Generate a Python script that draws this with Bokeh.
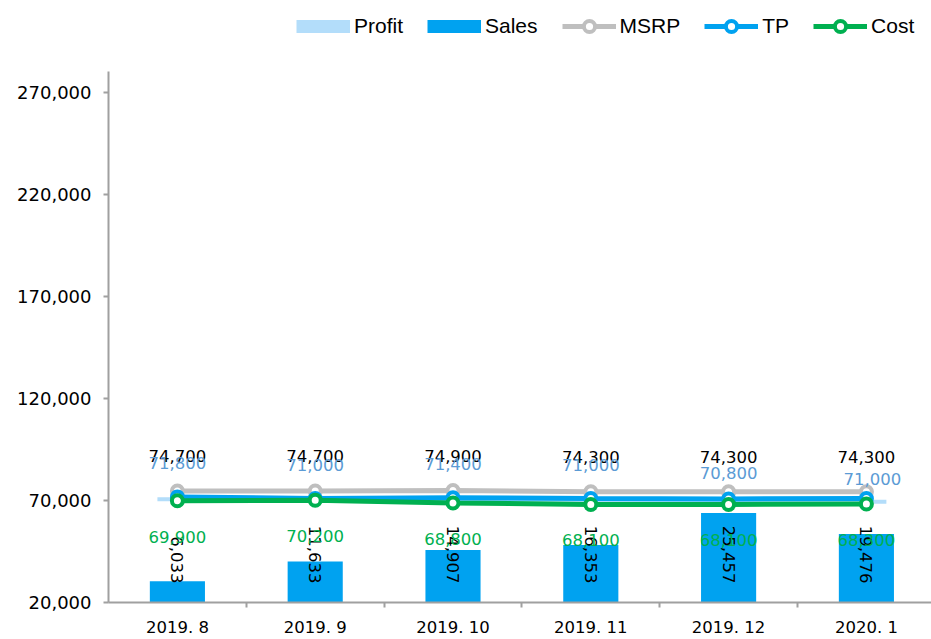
from bokeh.plotting import figure
from bokeh.layouts import column
from bokeh.models import (Range1d, FixedTicker, NumeralTickFormatter, Legend,
                          LegendItem, ColumnDataSource, LinearAxis)
from bokeh.embed import file_html
from bokeh.resources import INLINE
from bokeh.core.properties import value
import math

# ---------------- data ----------------
categories = ["2019. 8", "2019. 9", "2019. 10", "2019. 11", "2019. 12", "2020. 1"]
sales = [6033, 11633, 14907, 16353, 25457, 19476]
msrp = [74700, 74700, 74900, 74300, 74300, 74300]
tp = [71800, 71000, 71400, 71000, 70800, 71000]
cost = [69900, 70200, 68800, 68100, 68100, 68300]
profit = [70600, 70600, 70200, 69800, 69600, 69400]
y_ticks = [20000, 70000, 120000, 170000, 220000, 270000]
series_names = ["Profit", "Sales", "MSRP", "TP", "Cost"]

# ---------------- style ----------------
C_PROFIT = "#B3DDFA"
C_SALES = "#00A2F0"
C_MSRP = "#BFBFBF"
C_TP = "#00A2F0"
C_COST = "#00B050"
C_TP_LABEL = "#5B9BD5"
AXIS_C = "#A0A0A0"
NUM_FONT = value("DejaVu Sans")

W, H_TOP, H = 931, 71, 568
BL, BR, BT, BB = 108, 0, 0, 37
frame_h = H - BT - BB
frame_w = W - BL - BR
cat_px = 137.8
x_start = -0.5
x_end = x_start + frame_w / cat_px
y_start, y_end = 20000, 280500
sales_end = 151000

idx = list(range(len(categories)))

# ---------------- legend strip ----------------
lg = figure(width=W, height=H_TOP, output_backend="svg", toolbar_location=None,
            x_range=Range1d(0, 1), y_range=Range1d(0, 1), min_border=0,
            outline_line_color=None, x_axis_type=None, y_axis_type=None)
lg.xgrid.visible = False
lg.ygrid.visible = False
far = dict(x=[-10], y=[-10])
lp = lg.line(**far, line_color=C_PROFIT, line_width=13)
ls = lg.line(**far, line_color=C_SALES, line_width=13)
items = [LegendItem(label=series_names[0], renderers=[lp]),
         LegendItem(label=series_names[1], renderers=[ls])]
for name, col in zip(series_names[2:], (C_MSRP, C_TP, C_COST)):
    l1 = lg.line(**far, line_color=col, line_width=5)
    s1 = lg.scatter(**far, marker="circle", size=11, line_width=4,
                    line_color=col, fill_color="white")
    items.append(LegendItem(label=name, renderers=[l1, s1]))
legend_bottom = 39.5   # px from top of strip
legend_left = 296      # px from page left
legend = Legend(items=items, orientation="horizontal",
                location=(legend_left - BL, H_TOP - legend_bottom))
legend.glyph_width = 54
legend.glyph_height = 28
legend.label_standoff = 4
legend.spacing = 24
legend.padding = 0
legend.margin = 0
legend.border_line_color = None
legend.background_fill_alpha = 0
legend.label_text_font = "Liberation Sans"
legend.label_text_font_size = "21px"
legend.label_text_color = "black"
lg.add_layout(legend, "center")

# ---------------- main chart ----------------
p = figure(width=W, height=H, output_backend="svg", toolbar_location=None,
           x_range=Range1d(x_start, x_end), y_range=Range1d(y_start, y_end),
           min_border_left=BL, min_border_right=BR, min_border_top=BT,
           min_border_bottom=BB, outline_line_color=None, x_axis_type=None,
           y_axis_type=None)
p.extra_y_ranges = {"sales": Range1d(0, sales_end)}
p.xgrid.visible = False
p.ygrid.visible = False

xaxis = LinearAxis(ticker=FixedTicker(ticks=idx, minor_ticks=[i + 0.5 for i in idx]),
                   major_label_overrides={i: c for i, c in zip(idx, categories)})
xaxis.axis_line_color = AXIS_C
xaxis.axis_line_width = 2
xaxis.major_tick_line_color = None
xaxis.major_tick_out = 0
xaxis.major_tick_in = 0
xaxis.minor_tick_line_color = AXIS_C
xaxis.minor_tick_line_width = 2
xaxis.minor_tick_out = 5
xaxis.minor_tick_in = 0
xaxis.major_label_text_font = "DejaVu Sans"
xaxis.major_label_text_font_size = "16.5px"
xaxis.major_label_text_color = "black"
xaxis.major_label_standoff = 10
p.add_layout(xaxis, "below")

yaxis = LinearAxis(ticker=FixedTicker(ticks=y_ticks, minor_ticks=[]),
                   formatter=NumeralTickFormatter(format="0,0"))
yaxis.axis_line_color = AXIS_C
yaxis.axis_line_width = 2
yaxis.major_tick_line_color = AXIS_C
yaxis.major_tick_line_width = 2
yaxis.major_tick_out = 5
yaxis.major_tick_in = 0
yaxis.minor_tick_line_color = None
yaxis.major_label_text_font = "DejaVu Sans"
yaxis.major_label_text_font_size = "18px"
yaxis.major_label_text_color = "black"
yaxis.major_label_standoff = 12
p.add_layout(yaxis, "left")

src = ColumnDataSource(dict(x=idx, sales=sales, msrp=msrp, tp=tp, cost=cost,
                            profit=profit))

# Sales bars (secondary scale)
p.vbar(x="x", top="sales", bottom=0, width=0.4, source=src, y_range_name="sales",
       fill_color=C_SALES, line_color=None)

# Profit band (thin, slightly overhanging first/last category)
overhang = 0.145
px = [idx[0] - overhang] + idx + [idx[-1] + overhang]
py = [profit[0]] + profit + [profit[-1]]
p.line(px, py, line_color=C_PROFIT, line_width=4)

# Lines with markers
for key, col in (("msrp", C_MSRP), ("tp", C_TP), ("cost", C_COST)):
    p.line("x", key, source=src, line_color=col, line_width=5)
    p.scatter("x", key, source=src, marker="circle", size=11, line_width=4,
              line_color=col, fill_color="white")

# Data labels
fmt = lambda arr: [f"{v:,}" for v in arr]
base_y = 19 * sales_end / frame_h
p.text(x=idx, y=[base_y] * len(idx), text=fmt(sales), angle=-math.pi / 2,
       text_align="right", text_baseline="middle", text_font=NUM_FONT,
       text_font_size="16.5px", text_color="black", y_range_name="sales")

msrp_dy = [-35] * 6
tp_dy = [-34, -34, -34, -34, -26, -20]
tp_dx = [0, 0, 0, 0, 0, 6]
cost_dy = [36] * 6
p.text(x=idx, y=msrp, text=fmt(msrp), y_offset=msrp_dy,
       text_align="center", text_baseline="middle", text_font=NUM_FONT,
       text_font_size="16.5px", text_color="black")
p.text(x=idx, y=tp, text=fmt(tp), y_offset=tp_dy, x_offset=tp_dx,
       text_align="center", text_baseline="middle", text_font=NUM_FONT,
       text_font_size="16.5px", text_color=C_TP_LABEL)
p.text(x=idx, y=cost, text=fmt(cost), y_offset=cost_dy,
       text_align="center", text_baseline="middle", text_font=NUM_FONT,
       text_font_size="16.5px", text_color=C_COST)

layout = column(lg, p, spacing=0)
open("out.html", "w").write(file_html(layout, INLINE))
